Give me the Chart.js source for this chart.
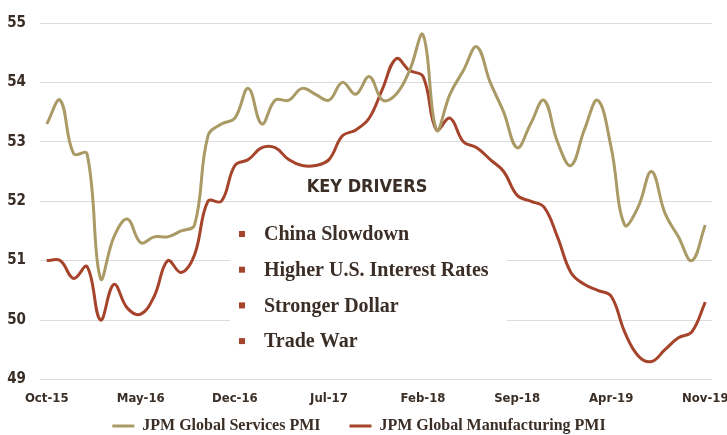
<!DOCTYPE html>
<html>
<head>
<meta charset="utf-8">
<script src="https://cdn.jsdelivr.net/npm/chart.js@4.4.1/dist/chart.umd.min.js"></script>
<style>
  body { margin: 0; background: #fff; }
  #wrap { width: 727px; height: 435px; }
</style>
</head>
<body>
<div id="wrap"><canvas id="pmiChart" width="727" height="435"></canvas></div>
<script>
// monthly labels, Oct-15 .. Nov-19
const months = ['Oct-15', 'Nov-15', 'Dec-15', 'Jan-16', 'Feb-16', 'Mar-16', 'Apr-16', 'May-16', 'Jun-16', 'Jul-16',
    'Aug-16', 'Sep-16', 'Oct-16', 'Nov-16', 'Dec-16', 'Jan-17', 'Feb-17', 'Mar-17', 'Apr-17', 'May-17',
    'Jun-17', 'Jul-17', 'Aug-17', 'Sep-17', 'Oct-17', 'Nov-17', 'Dec-17', 'Jan-18', 'Feb-18', 'Mar-18',
    'Apr-18', 'May-18', 'Jun-18', 'Jul-18', 'Aug-18', 'Sep-18', 'Oct-18', 'Nov-18', 'Dec-18', 'Jan-19',
    'Feb-19', 'Mar-19', 'Apr-19', 'May-19', 'Jun-19', 'Jul-19', 'Aug-19', 'Sep-19', 'Oct-19', 'Nov-19'];

const servicesPmi = [53.3, 53.7, 52.8, 52.8, 50.7, 51.4, 51.7, 51.3, 51.4, 51.4,
    51.5, 51.6, 53.1, 53.3, 53.4, 53.9, 53.3, 53.7, 53.7, 53.9,
    53.8, 53.7, 54.0, 53.8, 54.1, 53.7, 53.8, 54.2, 54.8, 53.2,
    53.8, 54.2, 54.6, 54.0, 53.5, 52.9, 53.3, 53.7, 53.0, 52.6,
    53.2, 53.7, 52.9, 51.6, 51.9, 52.5, 51.8, 51.4, 51.0, 51.6];

const manufacturingPmi = [51.0, 51.0, 50.7, 50.9, 50.0, 50.6, 50.2, 50.1, 50.4, 51.0,
    50.8, 51.1, 52.0, 52.0, 52.6, 52.7, 52.9, 52.9, 52.7, 52.6,
    52.6, 52.7, 53.1, 53.2, 53.4, 53.9, 54.4, 54.2, 54.1, 53.2,
    53.4, 53.0, 52.9, 52.7, 52.5, 52.1, 52.0, 51.9, 51.4, 50.8,
    50.6, 50.5, 50.4, 49.8, 49.4, 49.3, 49.5, 49.7, 49.8, 50.3];

const drivers = ['China Slowdown', 'Higher U.S. Interest Rates', 'Stronger Dollar', 'Trade War'];

const khaki = '#a99a66';
const rust = '#a5432b';
const ink = '#3a2e26';
const sansCond = "'Liberation Sans Narrow', 'DejaVu Sans Condensed', sans-serif";
const serif = "'Liberation Serif', 'DejaVu Serif', serif";

// white panel with the key drivers list, drawn over the grid
const keyDrivers = {
    id: 'keyDrivers',
    beforeDatasetsDraw(chart) {
        const ctx = chart.ctx;
        ctx.save();
        ctx.fillStyle = '#fff';
        ctx.fillRect(230, 204, 277, 166);

        ctx.fillStyle = ink;
        ctx.font = 'bold 18px ' + sansCond;
        ctx.textAlign = 'center';
        ctx.textBaseline = 'middle';
        ctx.fillText('KEY DRIVERS', 367, 187);

        ctx.textAlign = 'left';
        ctx.font = 'bold 20px ' + serif;
        drivers.forEach((d, i) => {
            const y = 234 + i * 35.7;
            ctx.fillStyle = rust;
            ctx.fillRect(239, y - 3, 6, 6);
            ctx.fillStyle = ink;
            ctx.fillText(d, 264, y + 1);
        });
        ctx.restore();
    }
};

const ctx = document.getElementById('pmiChart');
new Chart(ctx, {
    type: 'line',
    data: {
        labels: months,
        datasets: [{
            label: 'JPM Global Services PMI',
            data: servicesPmi,
            borderColor: khaki,
            backgroundColor: khaki,
            borderWidth: 3,
            pointRadius: 0,
            tension: 0.4
        }, {
            label: 'JPM Global Manufacturing PMI',
            data: manufacturingPmi,
            borderColor: rust,
            backgroundColor: rust,
            borderWidth: 3,
            pointRadius: 0,
            tension: 0.4
        }]
    },
    options: {
        responsive: false,
        animation: false,
        layout: { padding: { left: 6, right: 15, top: 12, bottom: -9 } },
        plugins: {
            legend: {
                position: 'bottom',
                labels: {
                    usePointStyle: true,
                    pointStyle: 'line',
                    pointStyleWidth: 22,
                    boxHeight: 4,
                    padding: 1,
                    color: ink,
                    font: { family: serif, size: 16, weight: 'bold' },
                    generateLabels(chart) {
                        const items = Chart.defaults.plugins.legend.labels.generateLabels(chart);
                        items[0].text += '\u2002\u2002\u2002 ';
                        return items;
                    }
                }
            },
            tooltip: { enabled: false }
        },
        scales: {
            x: {
                offset: true,
                grid: { display: false, drawTicks: false },
                border: { display: false },
                ticks: {
                    autoSkip: false,
                    maxRotation: 0,
                    padding: 11,
                    color: ink,
                    font: { family: sansCond, size: 13, weight: 'bold' },
                    callback: (val, i) => (i % 7 === 0 ? months[i] : '')
                },
                afterFit(scale) {
                    scale.paddingLeft = 0;
                    scale.paddingRight = 0;
                }
            },
            y: {
                min: 49,
                max: 55,
                border: { display: false },
                grid: { color: '#dcdcdc', lineWidth: 1, drawTicks: false },
                ticks: {
                    stepSize: 1,
                    padding: 14,
                    color: ink,
                    font: { family: sansCond, size: 15, weight: 'bold' }
                },
                afterFit(scale) {
                    scale.width = 34;
                }
            }
        }
    },
    plugins: [keyDrivers]
});
</script>
</body>
</html>
